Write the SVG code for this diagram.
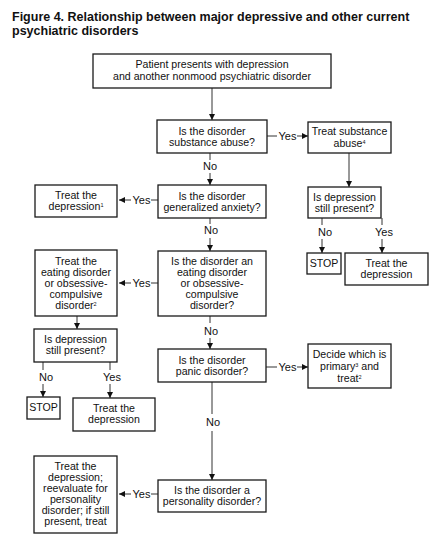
<svg xmlns="http://www.w3.org/2000/svg" width="439" height="543" viewBox="0 0 439 543">
<defs>
<style>
.box{fill:#fff;stroke:#1a1a1a;stroke-width:1.3}
.t{font-family:"Liberation Sans",Arial,sans-serif;font-size:10.6px;fill:#111;text-anchor:middle}
.lbl{font-family:"Liberation Sans",Arial,sans-serif;font-size:11px;fill:#111;text-anchor:middle}
.title{font-family:"Liberation Sans",Arial,sans-serif;font-size:12.5px;font-weight:bold;fill:#111}
.c{stroke:#333;stroke-width:1;fill:none}
.a{stroke:#333;stroke-width:1;fill:none;marker-end:url(#ah)}
.sup{font-size:5.5px}
</style>
<marker id="ah" markerUnits="userSpaceOnUse" markerWidth="6" markerHeight="6" viewBox="0 0 6 6" refX="6" refY="3" orient="auto">
<path d="M0,0 L6,3 L0,6 z" fill="#111"/>
</marker>
</defs>
<rect width="439" height="543" fill="#fff"/>
<g id="title">
<text class="title" x="12" y="21">Figure 4. Relationship between major depressive and other current</text>
<text class="title" x="12" y="35">psychiatric disorders</text>
</g>
<g id="connectors">
<line class="a" x1="212" y1="88" x2="212" y2="120"/>
<line class="c" x1="267" y1="136" x2="277" y2="136"/>
<text class="lbl" x="287.5" y="140">Yes</text>
<line class="a" x1="297" y1="136" x2="308" y2="136"/>
<line class="a" x1="349" y1="153" x2="349" y2="187"/>
<line class="c" x1="210" y1="153" x2="210" y2="160"/>
<text class="lbl" x="210" y="170">No</text>
<line class="a" x1="210" y1="173" x2="210" y2="185"/>
<line class="c" x1="158" y1="200" x2="151" y2="200"/>
<text class="lbl" x="141.5" y="204">Yes</text>
<line class="a" x1="131" y1="200" x2="119" y2="200"/>
<line class="c" x1="322" y1="218" x2="322" y2="225"/>
<text class="lbl" x="325" y="236">No</text>
<line class="a" x1="322" y1="239" x2="322" y2="253"/>
<line class="c" x1="382" y1="218" x2="382" y2="225"/>
<text class="lbl" x="384" y="236">Yes</text>
<line class="a" x1="382" y1="239" x2="382" y2="253"/>
<line class="c" x1="210" y1="218" x2="210" y2="224"/>
<text class="lbl" x="211" y="234">No</text>
<line class="a" x1="210" y1="238" x2="210" y2="251"/>
<line class="c" x1="158" y1="283" x2="151" y2="283"/>
<text class="lbl" x="141.5" y="287">Yes</text>
<line class="a" x1="131" y1="283" x2="119" y2="283"/>
<line class="a" x1="77" y1="316" x2="77" y2="329"/>
<line class="c" x1="210" y1="316" x2="210" y2="323"/>
<text class="lbl" x="211" y="335">No</text>
<line class="a" x1="210" y1="338" x2="210" y2="349"/>
<line class="c" x1="43" y1="362" x2="43" y2="370"/>
<text class="lbl" x="46" y="381">No</text>
<line class="a" x1="43" y1="384" x2="43" y2="397"/>
<line class="c" x1="110" y1="362" x2="110" y2="370"/>
<text class="lbl" x="112" y="381">Yes</text>
<line class="a" x1="110" y1="384" x2="110" y2="398"/>
<line class="c" x1="266" y1="367" x2="277" y2="367"/>
<text class="lbl" x="287.5" y="371">Yes</text>
<line class="a" x1="297" y1="367" x2="308" y2="367"/>
<line class="c" x1="212" y1="382" x2="212" y2="414"/>
<text class="lbl" x="213" y="426">No</text>
<line class="a" x1="212" y1="431" x2="212" y2="480"/>
<line class="c" x1="158" y1="494" x2="151" y2="494"/>
<text class="lbl" x="141.5" y="498">Yes</text>
<line class="a" x1="131" y1="494" x2="119" y2="494"/>
</g>
<g id="start">
<rect class="box" x="93" y="54" width="238" height="34"/>
<text class="t" x="212" y="68">Patient presents with depression</text>
<text class="t" x="212" y="80">and another nonmood psychiatric disorder</text>
</g>
<g id="q-substance">
<rect class="box" x="157" y="120" width="110" height="33"/>
<text class="t" x="212" y="135">Is the disorder</text>
<text class="t" x="212" y="146">substance abuse?</text>
</g>
<g id="treat-substance">
<rect class="box" x="308" y="122" width="83" height="31"/>
<text class="t" x="349.5" y="135">Treat substance</text>
<text class="t" x="349.5" y="147">abuse<tspan class="sup" dy="-3">4</tspan></text>
</g>
<g id="q-anxiety">
<rect class="box" x="158" y="185" width="108" height="33"/>
<text class="t" x="212" y="200">Is the disorder</text>
<text class="t" x="212" y="211">generalized anxiety?</text>
</g>
<g id="treat-depression-1">
<rect class="box" x="35" y="185" width="82" height="32"/>
<text class="t" x="76" y="199">Treat the</text>
<text class="t" x="76" y="210">depression<tspan class="sup" dy="-3">1</tspan></text>
</g>
<g id="still-present-right">
<rect class="box" x="308" y="187" width="73" height="31"/>
<text class="t" x="344.5" y="201">Is depression</text>
<text class="t" x="344.5" y="212">still present?</text>
</g>
<g id="stop-right">
<rect class="box" x="307" y="253" width="34" height="21"/>
<text class="t" x="324" y="267">STOP</text>
</g>
<g id="treat-depression-right">
<rect class="box" x="345" y="253" width="83" height="32"/>
<text class="t" x="386.5" y="267">Treat the</text>
<text class="t" x="386.5" y="278">depression</text>
</g>
<g id="q-eating">
<rect class="box" x="158" y="251" width="108" height="65"/>
<text class="t" x="212" y="265">Is the disorder an</text>
<text class="t" x="212" y="276">eating disorder</text>
<text class="t" x="212" y="287">or obsessive-</text>
<text class="t" x="212" y="298">compulsive</text>
<text class="t" x="212" y="309">disorder?</text>
</g>
<g id="treat-eating">
<rect class="box" x="35" y="250" width="82" height="66"/>
<text class="t" x="76" y="265">Treat the</text>
<text class="t" x="76" y="276">eating disorder</text>
<text class="t" x="76" y="287">or obsessive-</text>
<text class="t" x="76" y="298">compulsive</text>
<text class="t" x="76" y="309">disorder<tspan class="sup" dy="-3">2</tspan></text>
</g>
<g id="still-present-left">
<rect class="box" x="34" y="329" width="83" height="33"/>
<text class="t" x="75.5" y="343">Is depression</text>
<text class="t" x="75.5" y="354">still present?</text>
</g>
<g id="q-panic">
<rect class="box" x="158" y="349" width="108" height="33"/>
<text class="t" x="212" y="364">Is the disorder</text>
<text class="t" x="212" y="375">panic disorder?</text>
</g>
<g id="decide">
<rect class="box" x="308" y="344" width="83" height="44"/>
<text class="t" x="349.5" y="358">Decide which is</text>
<text class="t" x="349.5" y="370">primary<tspan class="sup" dy="-3">3</tspan><tspan dy="3"> and</tspan></text>
<text class="t" x="349.5" y="382">treat<tspan class="sup" dy="-3">2</tspan></text>
</g>
<g id="stop-left">
<rect class="box" x="27" y="397" width="33" height="22"/>
<text class="t" x="43.5" y="411">STOP</text>
</g>
<g id="treat-depression-left">
<rect class="box" x="73" y="398" width="82" height="33"/>
<text class="t" x="114" y="412">Treat the</text>
<text class="t" x="114" y="423">depression</text>
</g>
<g id="q-personality">
<rect class="box" x="158" y="480" width="108" height="32"/>
<text class="t" x="212" y="494">Is the disorder a</text>
<text class="t" x="212" y="505">personality disorder?</text>
</g>
<g id="treat-personality">
<rect class="box" x="34" y="456" width="83" height="77"/>
<text class="t" x="75.5" y="470">Treat the</text>
<text class="t" x="75.5" y="481">depression;</text>
<text class="t" x="75.5" y="492">reevaluate for</text>
<text class="t" x="75.5" y="503">personality</text>
<text class="t" x="75.5" y="514">disorder; if still</text>
<text class="t" x="75.5" y="525">present, treat</text>
</g>
</svg>
